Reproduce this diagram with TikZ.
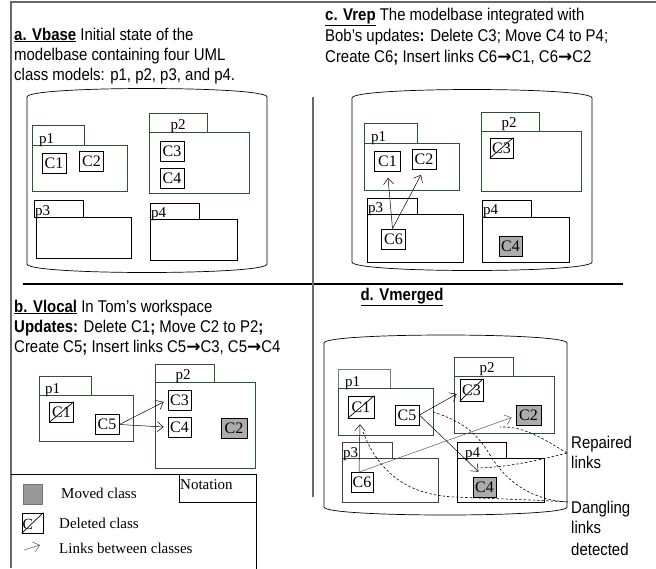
\documentclass[tikz,border=0pt]{standalone}
\usepackage{fontspec}
\setmainfont{Liberation Sans}[FakeStretch=0.88]
\newfontfamily\serif{Liberation Serif}
\newfontfamily\arrowfont{DejaVu Sans}
\usetikzlibrary{arrows.meta,calc}
\definecolor{pkggreen}{RGB}{45,85,45}
\definecolor{framegray}{RGB}{105,105,105}
\newcommand\RA{{\arrowfont\bfseries →}}
\newcommand\mycyl[5]{%
  \pgfmathsetmacro\cyk{#5*4/3}%
  \draw[cyl] (#1,#3) .. controls (#1,#3-\cyk) and (#2,#3-\cyk) .. (#2,#3) .. controls (#2,#3+\cyk) and (#1,#3+\cyk) .. (#1,#3) -- cycle;
  \draw[cyl] (#1,#3) -- (#1,#4) .. controls (#1,#4+\cyk) and (#2,#4+\cyk) .. (#2,#4) -- (#2,#3);
}
\begin{document}
\begin{tikzpicture}[x=1pt,y=-1pt,
  txt/.style={anchor=base west, inner sep=0pt, font=\fontsize{17}{20}\selectfont},
  ser/.style={anchor=base west, inner sep=0pt, font=\serif\fontsize{15}{18}\selectfont},
  cyl/.style={draw=black, line width=0.7pt, fill=white},
  gpkg/.style={draw=pkggreen, line width=0.8pt},
  bpkg/.style={draw=black, line width=0.7pt},
  cls/.style={draw=black, line width=0.7pt, fill=white, minimum width=24pt, minimum height=20pt, inner sep=0pt, font=\serif\fontsize{16}{16}\selectfont},
  moved/.style={cls, fill=gray!65},
  delline/.style={draw=black, line width=0.7pt},
  link/.style={-{Straight Barb[length=6pt,width=10pt]}, line width=0.5pt},
  pointer/.style={dashed, dash pattern=on 2.5pt off 2pt, line width=0.6pt}
]
\useasboundingbox (0,0) rectangle (656,568);
\fill[white] (0,0) rectangle (656,568);

% frame and dividers
\draw[framegray, line width=1.2pt] (11,568) -- (11,2) -- (656,2);
\draw[black, line width=2pt] (23,284) -- (623,284);
\draw[framegray, line width=1.2pt] (313,97) -- (313,497);

% ---------------- panel a ----------------
\node[txt] (ta1) at (14,40) {\underline{\textbf{a. Vbase}} Initial state of the};
\node[txt] (ta2) at (14,60) {modelbase containing four UML};
\node[txt] (ta3) at (14,80) {class models: p1, p2, p3, and p4.};
\mycyl{27}{267}{97}{264}{8.5}
\draw[gpkg] (32,125) rectangle (84,145);
\draw[gpkg] (32,145) rectangle (127,191);
\draw[gpkg] (149,113) rectangle (207,132);
\draw[gpkg] (149,132) rectangle (249,193);
\draw[bpkg] (34,200) rectangle (83,217);
\draw[bpkg] (36,217) rectangle (131,258);
\draw[bpkg] (150,203) rectangle (199,219);
\draw[bpkg] (150,219) rectangle (237,260);
\node[ser] (ap1) at (39,143) {p1};
\node[ser, anchor=base] (ap2) at (178,129) {p2};
\node[ser] (ap3) at (35,215) {p3};
\node[ser] (ap4) at (151,217) {p4};
\node[cls] (aC1) at (54,163) {C1};
\node[cls] (aC2) at (91.5,161) {C2};
\node[cls] (aC3) at (172,151.5) {C3};
\node[cls] (aC4) at (172,178) {C4};

% ---------------- panel c ----------------
\node[txt] (tc1) at (325,20) {\underline{\textbf{c. Vrep}} The modelbase integrated with};
\node[txt] (tc2) at (325,41) {Bob’s updates\textbf{:} Delete C3; Move C4 to P4;};
\node[txt] (tc3) at (325,62) {Create C6\textbf{;} Insert links C6\RA C1, C6\RA C2};
\mycyl{352}{592}{98}{262}{8.5}
\draw[gpkg] (364,123) rectangle (417,143);
\draw[gpkg] (364,143) rectangle (459,190);
\draw[gpkg] (481,112) rectangle (539,131);
\draw[gpkg] (481,131) rectangle (581,191);
\draw[bpkg] (367,198) rectangle (417,214);
\draw[bpkg] (367,214) rectangle (463,262);
\draw[bpkg] (482,200) rectangle (531,217);
\draw[bpkg] (482,217) rectangle (569,262);
\node[ser] (cp1) at (371,141) {p1};
\node[ser, anchor=base] (cp2) at (509,127) {p2};
\node[ser] (cp3) at (368,212) {p3};
\node[ser] (cp4) at (483,214) {p4};
\node[cls, minimum width=26pt] (cC1) at (387.5,161.5) {C1};
\node[cls] (cC2) at (424,159.5) {C2};
\node[cls, minimum width=23pt] (cC3) at (501.5,148) {C3};
\draw[delline] (cC3.south west) -- (cC3.north east);
\node[cls] (cC6) at (393.5,239) {C6};
\node[moved, minimum width=23pt] (cC4) at (510.5,246) {C4};
\draw[link] ($(cC6.north)+(-1,0)$) -- ($(cC1.south)+(0.5,6)$);
\draw[link] ($(cC6.north)+(-1,0)$) -- ($(cC2.south)+(-3,5)$);

% ---------------- panel b ----------------
\node[txt] (tb1) at (14,312) {\underline{\textbf{b. Vlocal}} In Tom’s workspace};
\node[txt] (tb2) at (14,332) {\textbf{Updates:} Delete C1\textbf{;} Move C2 to P2\textbf{;}};
\node[txt] (tb3) at (14,352) {Create C5\textbf{;} Insert links C5\RA C3, C5\RA C4};
\draw[gpkg] (39,376) rectangle (91,395);
\draw[gpkg] (39,395) rectangle (133,441);
\draw[gpkg] (155,364) rectangle (214,382);
\draw[gpkg] (155,382) rectangle (255,468);
\node[ser] (bp1) at (45,393) {p1};
\node[ser, anchor=base] (bp2) at (183,379) {p2};
\node[cls] (bC1) at (61.5,412) {C1};
\draw[delline] (bC1.south west) -- (bC1.north east);
\node[cls] (bC5) at (107,424.5) {C5};
\node[cls, minimum width=23pt] (bC3) at (179.5,400.5) {C3};
\node[cls, minimum width=23pt] (bC4) at (179.5,427) {C4};
\node[moved, minimum width=26pt] (bC2) at (234,428) {C2};
\draw[link] (bC5.east) -- ($(bC3.west)+(-4,1.5)$);
\draw[link] (bC5.east) -- ($(bC4.west)+(-4,0)$);

% ---------------- notation ----------------
\draw[black, line width=0.7pt] (11,474) -- (256,474) -- (256,570);
\node[draw=black, line width=0.7pt, minimum width=77pt, minimum height=28pt, inner sep=0pt] (notbox) at (217.5,488) {};
\node[ser] (notlbl) at (180,489) {Notation};
\node[draw=gray!90!black, fill=gray!80, minimum width=19pt, minimum height=20pt, inner sep=0pt] (nmov) at (32.5,494) {};
\node[ser] (nmovt) at (61,498) {Moved class};
\node[draw=black, line width=0.7pt, fill=white, minimum width=21pt, minimum height=20pt, inner sep=0pt] (ndel) at (32.5,523) {};
\node[anchor=west, inner sep=0pt, font=\serif\fontsize{15.5}{16}\selectfont] (ndelc) at (22.5,524) {C};
\draw[delline] (ndel.south west) -- (ndel.north east);
\node[ser] (ndelt) at (59,528) {Deleted class};
\coordinate (nlinka) at (24,550);
\coordinate (nlinkb) at (40,545);
\draw[link, gray!70!black] (nlinka) -- (nlinkb);
\node[ser] (nlinkt) at (59,553) {Links between classes};

% ---------------- panel d ----------------
\node[txt, anchor=base] (td) at (402,300) {\underline{\textbf{d. Vmerged}}};
\mycyl{324}{567}{343}{507}{8}
\draw[gpkg, draw=pkggreen!70] (338,369) rectangle (390,388);
\draw[gpkg] (338,388) rectangle (433,435);
\draw[gpkg] (454,357) rectangle (513,376);
\draw[gpkg] (454,376) rectangle (554,433);
\draw[bpkg, draw=black!75] (342,442) rectangle (392,458);
\draw[bpkg, draw=black!75] (342,458) rectangle (438,502);
\draw[bpkg] (457,442) rectangle (506,458);
\draw[bpkg] (457,458) rectangle (544,502);
\node[ser] (dp1) at (345,386) {p1};
\node[ser, anchor=base] (dp2) at (487,372) {p2};
\node[ser] (dp3) at (343,457) {p3};
\node[ser] (dp4) at (465,457) {p4};
\node[cls, minimum width=26pt, minimum height=22pt] (dC1) at (361,407) {C1};
\draw[delline] (dC1.south west) -- (dC1.north east);
\node[cls] (dC5) at (407,415) {C5};
\node[cls, minimum width=23pt, minimum height=22pt] (dC3) at (471.5,390) {C3};
\draw[delline] (dC3.south west) -- (dC3.north east);
\node[moved, minimum width=25pt] (dC2) at (528.5,415.5) {C2};
\node[cls, minimum width=22pt] (dC6) at (362,482.5) {C6};
\node[moved, minimum width=23pt] (dC4) at (484.5,487) {C4};
\draw[link] (dC5.east) -- ($(dC3.west)+(-3,4)$);
\draw[link] (dC5.east) -- ($(dC4.north)+(-6,-5)$);
\draw[link] ($(dC6.north)+(-3,0)$) -- ($(dC1.south)+(-1,6)$);
\draw[link, gray!70!black] ($(dC6.north)+(-3,0)$) -- ($(dC2.west)+(-4,2)$);
\coordinate (rep) at (567,453);
\coordinate (dang) at (568,502);
\draw[pointer] (rep) .. controls (545,440) and (525,426) .. (500,427);
\draw[pointer] (rep) .. controls (540,460) and (510,467) .. (478,468);
\draw[pointer] (433,412) .. controls (465,422) and (478,435) .. (490,455) .. controls (505,480) and (530,500) .. (dang);
\draw[pointer] (363,432) .. controls (378,470) and (405,495) .. (455,497) .. controls (500,499) and (540,500) .. (dang);
\node[txt] (lrep1) at (571,448) {Repaired};
\node[txt] (lrep2) at (571,468) {links};
\node[txt] (ldang1) at (571,513) {Dangling};
\node[txt] (ldang2) at (571,533) {links};
\node[txt] (ldang3) at (571,555) {detected};
\end{tikzpicture}
\end{document}
